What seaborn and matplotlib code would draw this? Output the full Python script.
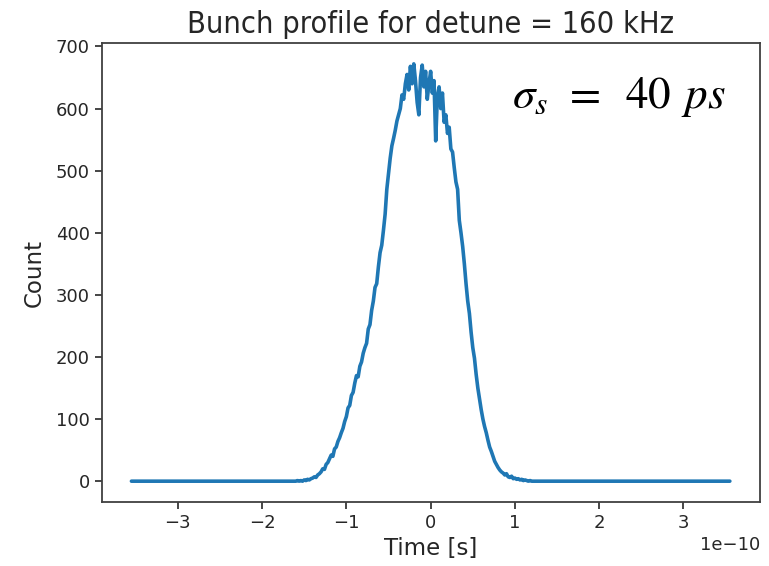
import numpy as np
import pandas as pd
import matplotlib
matplotlib.use("Agg")
import matplotlib.pyplot as plt
import seaborn as sns

# ---- data ----
time_start = -1.60e-10      # first non-empty bin centre
time_step = 0.02e-10        # bin spacing
time_min, time_max = -3.55e-10, 3.55e-10

counts = [
    0, 1, 0, 1, 0, 2, 1, 3, 2, 4,
    5, 7, 6, 10, 12, 15, 20, 19, 27, 30,
    36, 42, 40, 52, 55, 64, 70, 78, 85, 96,
    104, 118, 122, 138, 143, 158, 170, 168, 185, 192,
    206, 215, 222, 245, 252, 275, 290, 312, 318, 345,
    368, 380, 404, 430, 470, 495, 520, 540, 552, 565,
    580, 590, 600, 622, 615, 640, 655, 630, 668, 640,
    672, 645, 610, 590, 650, 670, 635, 660, 615, 640,
    660, 625, 645, 548, 620, 635, 600, 625, 578, 590,
    560, 570, 535, 530, 505, 482, 470, 420, 400, 378,
    350, 318, 290, 270, 240, 215, 198, 172, 150, 132,
    115, 100, 88, 78, 66, 55, 48, 40, 32, 27,
    22, 18, 15, 13, 10, 12, 7, 6, 8, 4,
    5, 3, 4, 2, 3, 1, 2, 1, 0, 1,
    0, 0, 0, 0, 0, 0,
]

title = "Bunch profile for detune = 160 kHz"
xlabel = "Time [s]"
ylabel = "Count"
annotation = r"$\sigma_s\;\,=\;\;40\;\,ps$"

# ---- build table ----
times = time_start + time_step * np.arange(len(counts))
t_all = np.concatenate([[time_min], times, [time_max]])
c_all = np.concatenate([[0], counts, [0]])
df = pd.DataFrame({"time": t_all, "count": c_all})

sns.set_style("ticks")
plt.rcParams["mathtext.fontset"] = "stix"
plt.rcParams["font.family"] = ["DejaVu Sans"]

fig = plt.figure(figsize=(7.69, 5.66), dpi=100)
ax = fig.add_axes([0.132, 0.113, 0.856, 0.811])

sns.lineplot(data=df, x="time", y="count", ax=ax, color="#1f77b4",
             linewidth=2.6, estimator=None, sort=False)

ax.set_title(title, fontsize=22, fontstretch="condensed", color="#262626", pad=7)
ax.set_xlabel(xlabel, fontsize=16.5, color="#262626")
ax.set_ylabel(ylabel, fontsize=16.5, color="#262626", labelpad=7)
ax.set_yticks([0, 100, 200, 300, 400, 500, 600, 700])
ax.set_xticks([-3e-10, -2e-10, -1e-10, 0, 1e-10, 2e-10, 3e-10])
ax.tick_params(labelsize=13, colors="#262626", length=5, width=1.2)
ax.xaxis.get_offset_text().set_fontsize(13)
for s in ax.spines.values():
    s.set_visible(True)
    s.set_color("#404040")
    s.set_linewidth(1.3)

ax.text(0.624, 0.882, annotation, transform=ax.transAxes, fontsize=32.5,
        ha="left", va="center", color="black")

fig.savefig("out.png", dpi=100)
